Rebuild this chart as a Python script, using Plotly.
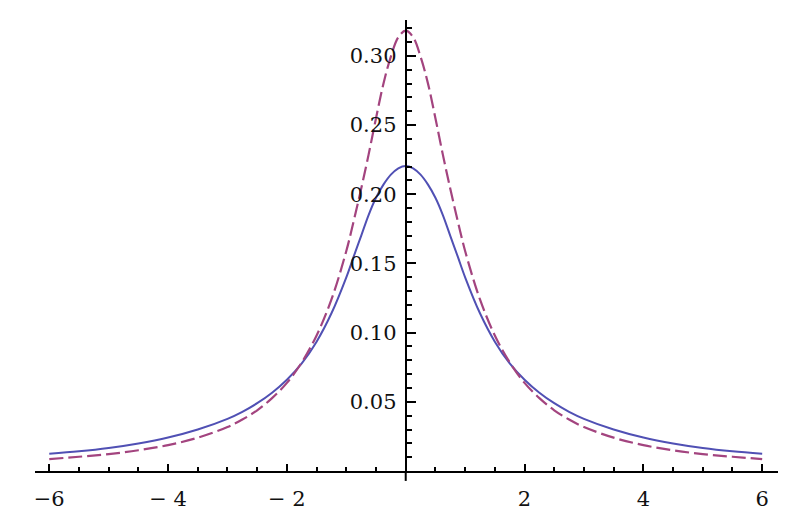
import plotly.graph_objects as go

# values (symmetric about x = 0)
X_VALUES = [-6, -5.5, -5, -4.5, -4, -3.5, -3, -2.75, -2.5, -2.25, -2, -1.75, -1.5, -1.25,
            -1, -0.875, -0.75, -0.625, -0.5, -0.375, -0.25, -0.125, 0, 0.125, 0.25, 0.375,
            0.5, 0.625, 0.75, 0.875, 1, 1.25, 1.5, 1.75, 2, 2.25, 2.5, 2.75, 3, 3.5, 4,
            4.5, 5, 5.5, 6]
SOLID_VALUES = [0.0124, 0.0142, 0.0166, 0.0199, 0.0242, 0.0300, 0.0377, 0.0428, 0.0490,
                0.0566, 0.0660, 0.0778, 0.0935, 0.1140, 0.1400, 0.1551, 0.1700, 0.1850,
                0.1975, 0.2070, 0.2142, 0.2188, 0.2205, 0.2188, 0.2142, 0.2070, 0.1975,
                0.1850, 0.1700, 0.1551, 0.1400, 0.1140, 0.0935, 0.0778, 0.0660, 0.0566,
                0.0490, 0.0428, 0.0377, 0.0300, 0.0242, 0.0199, 0.0166, 0.0142, 0.0124]
DASHED_VALUES = [0.0086, 0.0103, 0.0122, 0.0150, 0.0187, 0.0241, 0.0318, 0.0372, 0.0439,
                 0.0527, 0.0637, 0.0785, 0.0980, 0.1240, 0.1590, 0.1808, 0.2040, 0.2287,
                 0.2550, 0.2800, 0.2995, 0.3135, 0.3183, 0.3135, 0.2995, 0.2800, 0.2550,
                 0.2287, 0.2040, 0.1808, 0.1590, 0.1240, 0.0980, 0.0785, 0.0637, 0.0527,
                 0.0439, 0.0372, 0.0318, 0.0241, 0.0187, 0.0150, 0.0122, 0.0103, 0.0086]
X_TICKS = [-6, -4, -2, 2, 4, 6]
X_TICK_TEXT = ["\u22126", "\u2212 4", "\u2212 2", "2", "4", "6"]
Y_TICKS = [0.05, 0.10, 0.15, 0.20, 0.25, 0.30]
Y_TICK_TEXT = ["0.05", "0.10", "0.15", "0.20", "0.25", "0.30"]

BLUE = "#5050b4"
PURPLE = "#a3447f"
FONT = dict(family="DejaVu Serif", size=21, color="#111111")

X_RANGE = [-6.24, 6.3]
Y_RANGE = [0, 0.326]

fig = go.Figure()
fig.add_trace(go.Scatter(
    x=X_VALUES, y=SOLID_VALUES, mode="lines",
    line=dict(color=BLUE, width=2, shape="spline", smoothing=1.0),
    showlegend=False,
))
fig.add_trace(go.Scatter(
    x=X_VALUES, y=DASHED_VALUES, mode="lines",
    line=dict(color=PURPLE, width=2.2, shape="spline", smoothing=1.0, dash="14px,5px"),
    showlegend=False,
))

# y axis stub below the x axis
fig.add_shape(type="line", xref="x", yref="paper", x0=0, x1=0, y0=0, y1=-0.022,
              line=dict(color="black", width=2))

y_pos = (0 - X_RANGE[0]) / (X_RANGE[1] - X_RANGE[0])

# page body adds an 8px offset, so the figure is 8px smaller than the window
fig.update_layout(
    width=778, height=517,
    margin=dict(l=27, r=6, t=12, b=54),
    plot_bgcolor="white", paper_bgcolor="white",
    font=FONT,
    xaxis=dict(
        range=X_RANGE, showgrid=False, zeroline=False, automargin=False,
        showline=True, linecolor="black", linewidth=2,
        tickvals=X_TICKS, ticktext=X_TICK_TEXT,
        ticks="inside", ticklen=7, tickwidth=2, tickcolor="black",
        ticklabelstandoff=8,
        minor=dict(ticks="inside", dtick=0.5, tick0=0, ticklen=4, tickwidth=2,
                   tickcolor="black", showgrid=False),
    ),
    yaxis=dict(
        range=Y_RANGE, showgrid=False, zeroline=False, automargin=False,
        anchor="free", position=y_pos,
        showline=True, linecolor="black", linewidth=2,
        tickvals=Y_TICKS, ticktext=Y_TICK_TEXT,
        ticks="inside", ticklen=9, tickwidth=2, tickcolor="black",
        ticklabelstandoff=4,
        minor=dict(ticks="inside", dtick=0.01, tick0=0, ticklen=5, tickwidth=2,
                   tickcolor="black", showgrid=False),
    ),
)

fig.write_html("out.html")
